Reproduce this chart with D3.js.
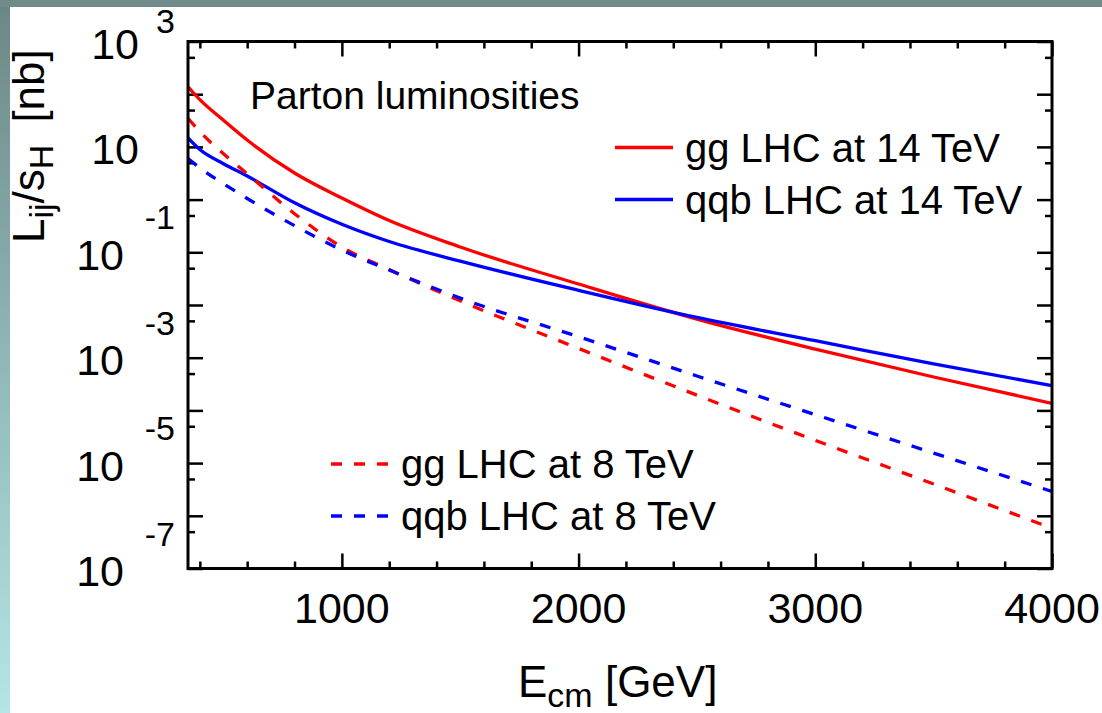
<!DOCTYPE html>
<html><head><meta charset="utf-8">
<script src="https://cdn.jsdelivr.net/npm/d3@7"></script>
<style>
body{margin:0;background:#fff}
svg{display:block}
text{font-family:"Liberation Sans",Arial,Helvetica,sans-serif;fill:#000}
</style>
</head><body><svg id="c" width="1102" height="713"></svg>
<script>
// ---- data ----
const energies  = [350, 400, 500, 600, 800, 1000, 1200, 1500, 2000, 2500, 3000, 3500, 4000];
const ggLHC14   = [138, 79, 32, 13.5, 3.2, 1.07, 0.40, 0.126, 0.025, 5.4e-3, 1.45e-3, 4.3e-4, 1.36e-4];
const qqbLHC14  = [14.8, 8.9, 4.8, 2.8, 0.87, 0.34, 0.16, 0.068, 0.019, 5.8e-3, 2.1e-3, 7.6e-4, 2.95e-4];
const ggLHC8    = [35, 19.5, 7.4, 3.1, 0.54, 0.126, 0.047, 0.012, 1.5e-3, 1.95e-4, 2.7e-5, 4.0e-6, 5.8e-7];
const qqbLHC8   = [6.0, 4.0, 2.0, 1.05, 0.32, 0.11, 0.046, 0.0135, 2.5e-3, 4.5e-4, 8.3e-5, 1.55e-5, 2.9e-6];

const xMajorTicks = [1000, 2000, 3000, 4000];
const xMinorTicks = [400, 600, 800, 1200, 1400, 1600, 1800, 2200, 2400, 2600, 2800, 3200, 3400, 3600, 3800];
const yMajorTicks = [1e3, 1e2, 1e1, 1, 1e-1, 1e-2, 1e-3, 1e-4, 1e-5, 1e-6, 1e-7];
const yMinorTicks = [500, 50, 5, 0.5, 0.05, 5e-3, 5e-4, 5e-5, 5e-6, 5e-7];
const yLabelExponents = [3, 1, -1, -3, -5, -7];

const titleText = "Parton luminosities";
const legendTop = ["gg LHC at 14 TeV", "qqb LHC at 14 TeV"];
const legendBottom = ["gg LHC at 8 TeV", "qqb LHC at 8 TeV"];

// ---- setup ----
const svg = d3.select("#c");
const defs = svg.append("defs");
const grad = defs.append("linearGradient").attr("id", "lg").attr("x1", 0).attr("y1", 0).attr("x2", 0).attr("y2", 1);
grad.append("stop").attr("offset", "0%").attr("stop-color", "#6b8785");
grad.append("stop").attr("offset", "100%").attr("stop-color", "#b4e6e6");
svg.append("rect").attr("x", 0).attr("y", 0).attr("width", 10).attr("height", 713).attr("fill", "url(#lg)");
svg.append("rect").attr("x", 0).attr("y", 0).attr("width", 1102).attr("height", 7).attr("fill", "#6f8c8b");

const L = 188, R = 1052, T = 41.5, B = 568.5;
const x = d3.scaleLinear().domain([350, 4000]).range([L, R]);
const y = d3.scaleLog().domain([1e-7, 1e3]).range([B, T]);

defs.append("clipPath").attr("id", "clip").append("rect")
  .attr("x", L).attr("y", T).attr("width", R - L).attr("height", B - T);

// ticks (inward, mirrored)
function styleAxis(g, w) {
  g.select(".domain").remove();
  g.selectAll(".tick line").attr("stroke", "#000").attr("stroke-width", w);
  g.selectAll(".tick text").remove();
}
const axes = [
  [d3.axisBottom, `translate(0,${B})`, x, xMajorTicks, 15],
  [d3.axisBottom, `translate(0,${B})`, x, xMinorTicks, 7],
  [d3.axisTop, `translate(0,${T})`, x, xMajorTicks, 15],
  [d3.axisTop, `translate(0,${T})`, x, xMinorTicks, 7],
  [d3.axisLeft, `translate(${L},0)`, y, yMajorTicks, 15],
  [d3.axisLeft, `translate(${L},0)`, y, yMinorTicks, 7],
  [d3.axisRight, `translate(${R},0)`, y, yMajorTicks, 15],
  [d3.axisRight, `translate(${R},0)`, y, yMinorTicks, 7]
];
axes.forEach(([fn, tr, sc, vals, len]) => {
  svg.append("g").attr("transform", tr)
    .call(fn(sc).tickValues(vals).tickSize(-len).tickFormat(""))
    .call(g => styleAxis(g, 2.5));
});

// curves
const line = d3.line().x(d => x(d[0])).y(d => y(d[1])).curve(d3.curveMonotoneX);
const series = [
  {vals: ggLHC14, color: "#ff0000", dash: null},
  {vals: qqbLHC14, color: "#0000ff", dash: null},
  {vals: ggLHC8, color: "#ff0000", dash: "11,12"},
  {vals: qqbLHC8, color: "#0000ff", dash: "11,12"}
];
const cg = svg.append("g").attr("clip-path", "url(#clip)");
series.forEach(s => {
  cg.append("path").datum(energies.map((e, i) => [e, s.vals[i]]))
    .attr("d", line).attr("fill", "none").attr("stroke", s.color)
    .attr("stroke-width", 3.3).attr("stroke-dasharray", s.dash);
});

// frame
svg.append("rect").attr("x", L).attr("y", T).attr("width", R - L).attr("height", B - T)
  .attr("fill", "none").attr("stroke", "#000").attr("stroke-width", 3);

// x tick labels
svg.append("g").selectAll("text").data(xMajorTicks).join("text")
  .attr("x", d => x(d)).attr("y", 623).attr("text-anchor", "middle")
  .attr("font-size", 43).text(d => d);

// y tick labels: "10" with raised exponent
const yl = svg.append("g");
yLabelExponents.forEach(e => {
  const ty = y(Math.pow(10, e));
  yl.append("text").attr("x", e >= 0 ? 139 : 124).attr("y", ty + 17.5)
    .attr("text-anchor", "end").attr("font-size", 43).text("10");
  if (e !== 1) {
    yl.append("text").attr("x", 175).attr("y", Math.max(ty - 23, 33))
      .attr("text-anchor", "end").attr("font-size", 34).text(String(e));
  }
});

// axis titles
const yt = svg.append("text").attr("transform", "translate(44,243) rotate(-90)").attr("font-size", 44);
yt.append("tspan").text("L");
yt.append("tspan").attr("font-size", 34).attr("dy", 9).text("ij");
yt.append("tspan").attr("dy", -9).text("/s");
yt.append("tspan").attr("font-size", 34).attr("dy", 9).text("H");
yt.append("tspan").attr("dy", -9).attr("dx", 22).text("[nb]");

const xt = svg.append("text").attr("x", 518).attr("y", 697).attr("font-size", 44);
xt.append("tspan").text("E");
xt.append("tspan").attr("font-size", 34).attr("dy", 10).text("cm");
xt.append("tspan").attr("dy", -10).text(" [GeV]");

// title
svg.append("text").attr("x", 250).attr("y", 109).attr("font-size", 39).text(titleText);

// legends
legendTop.forEach((t, i) => {
  const ly = 147.5 + i * 52;
  svg.append("line").attr("x1", 615).attr("x2", 673).attr("y1", ly).attr("y2", ly)
    .attr("stroke", series[i].color).attr("stroke-width", 3.3);
  svg.append("text").attr("x", 685).attr("y", ly + 14).attr("font-size", 40).text(t);
});
legendBottom.forEach((t, i) => {
  const ly = 464 + i * 52;
  svg.append("line").attr("x1", 331).attr("x2", 390).attr("y1", ly).attr("y2", ly)
    .attr("stroke", series[i + 2].color).attr("stroke-width", 3.3).attr("stroke-dasharray", "11,12");
  svg.append("text").attr("x", 401).attr("y", ly + 14).attr("font-size", 40).text(t);
});
</script>
</body></html>
